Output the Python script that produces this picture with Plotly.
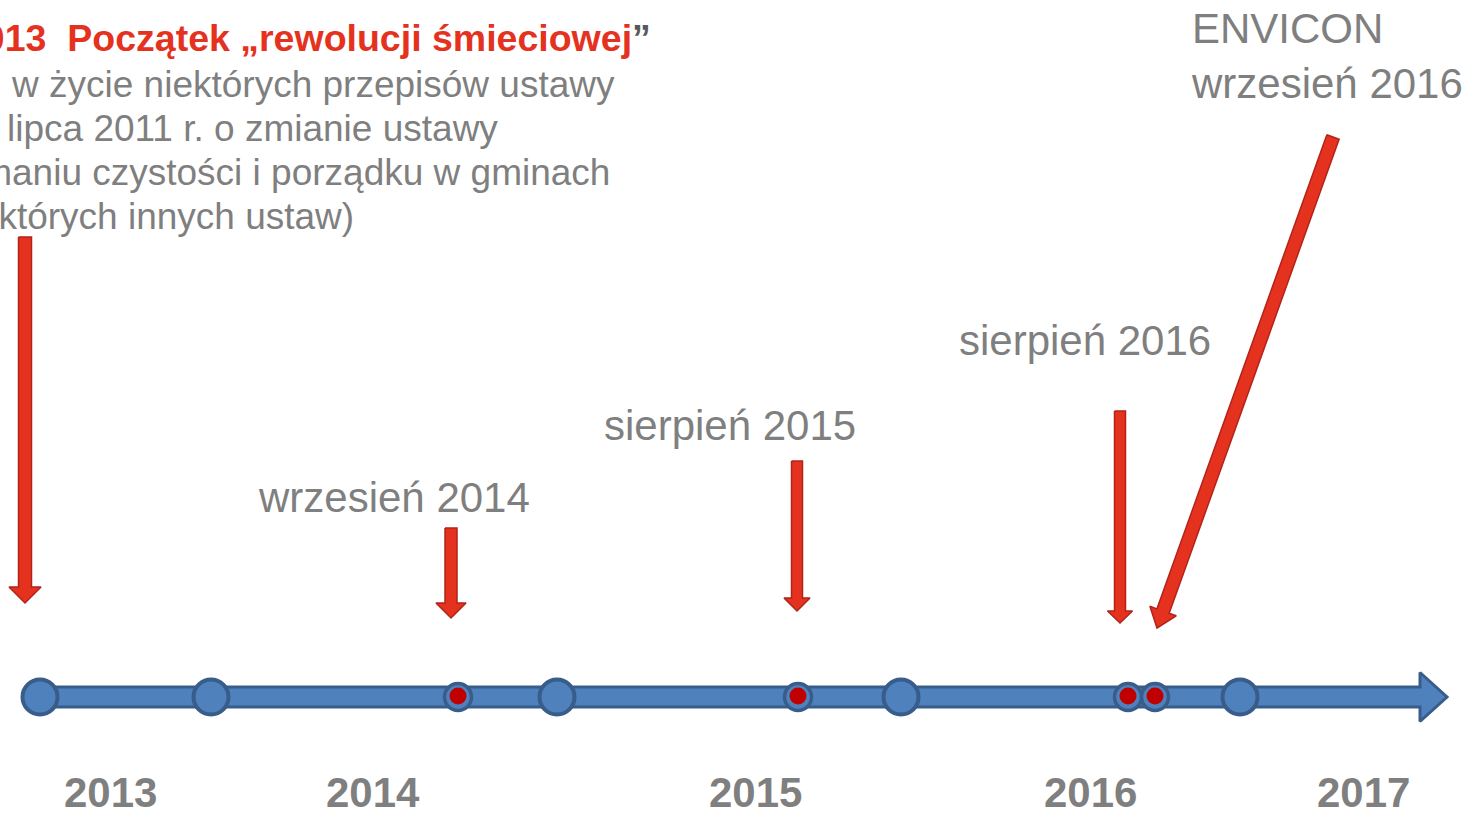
import numpy as np
import plotly.graph_objects as go

# canvas is laid out in slide pixels (x to the right, y downwards)
W, H = 1470, 815

# timeline
axis_y = 697
axis_start, axis_end = 36, 1447
big_nodes_x = [40, 211, 557, 901, 1240]
event_nodes_x = [458, 798, 1128, 1155]

# year labels under the axis
years = ["2013", "2014", "2015", "2016", "2017"]
years_x = [110, 373, 755, 1090, 1363]
years_y = 792

# red pointer arrows: start, end, shaft width, head width, head length
arrow_x0 = [25, 451, 797, 1120, 1333]
arrow_y0 = [237, 528, 461, 411, 137]
arrow_x1 = [25, 451, 797, 1120, 1157]
arrow_y1 = [603, 618, 611, 623, 628]
arrow_shaft = [13, 12, 11, 11, 13]
arrow_head = [32, 30, 26, 25, 28]
arrow_hlen = [16, 15, 13, 12, 18]

# event captions
labels = ["wrzesień 2014", "sierpień 2015", "sierpień 2016", "ENVICON<br>wrzesień 2016"]
labels_x = [256, 602, 957, 1189]
labels_y = [497, 425, 340, 56]

# cut-off description at the top left (right edges are visible)
title_text = "2013  Początek „rewolucji śmieciowej<span style='color:#595959'>”</span>"
desc_lines = [
    "w życie niektórych przepisów ustawy",
    "lipca 2011 r. o zmianie ustawy",
    "utrzymaniu czystości i porządku w gminach",
    "niektórych innych ustaw)",
]
desc_right = [617, 500, 612, 356]
desc_y = [84, 128, 172, 216]

RED = "#E5321F"
RED_EDGE = "#B3231A"
BLUE = "#4F81BD"
BLUE_EDGE = "#385D8A"
GREY = "#7F7F7F"
FONT = "Liberation Sans, Arial, sans-serif"


def block_arrow(x0, y0, x1, y1, shaft, head, hlen):
    # polygon of a block arrow going from (x0,y0) to (x1,y1)
    d = np.array([x1 - x0, y1 - y0], dtype=float)
    L = np.hypot(*d)
    u = d / L
    n = np.array([-u[1], u[0]])
    p0 = np.array([x0, y0], dtype=float)
    b = p0 + u * (L - hlen)
    tip = np.array([x1, y1], dtype=float)
    pts = [p0 + n * shaft / 2, b + n * shaft / 2, b + n * head / 2, tip,
           b - n * head / 2, b - n * shaft / 2, p0 - n * shaft / 2, p0 + n * shaft / 2]
    xs = [p[0] for p in pts]
    ys = [p[1] for p in pts]
    return xs, ys


fig = go.Figure()

# timeline arrow
ax, ay = block_arrow(axis_start, axis_y, axis_end, axis_y, 20, 49, 27)
fig.add_trace(go.Scatter(x=ax, y=ay, mode="lines", fill="toself", fillcolor=BLUE,
                         line=dict(color=BLUE_EDGE, width=3), hoverinfo="skip"))

fig.add_trace(go.Scatter(x=big_nodes_x, y=[axis_y] * len(big_nodes_x), mode="markers",
                         marker=dict(size=35, color=BLUE, line=dict(color=BLUE_EDGE, width=4)),
                         hoverinfo="skip"))
fig.add_trace(go.Scatter(x=event_nodes_x, y=[axis_y] * len(event_nodes_x), mode="markers",
                         marker=dict(size=27, color=BLUE, line=dict(color=BLUE_EDGE, width=3.5)),
                         hoverinfo="skip"))
fig.add_trace(go.Scatter(x=event_nodes_x, y=[axis_y - 1] * len(event_nodes_x), mode="markers",
                         marker=dict(size=17, color="#C00000", line=dict(width=0)),
                         hoverinfo="skip"))

# red arrows
for i in range(len(arrow_x0)):
    xs, ys = block_arrow(arrow_x0[i], arrow_y0[i], arrow_x1[i], arrow_y1[i],
                         arrow_shaft[i], arrow_head[i], arrow_hlen[i])
    fig.add_trace(go.Scatter(x=xs, y=ys, mode="lines", fill="toself", fillcolor=RED,
                             line=dict(color=RED_EDGE, width=1.5), hoverinfo="skip"))

# years
for t, x in zip(years, years_x):
    fig.add_annotation(x=x, y=years_y, text="<b>" + t + "</b>", showarrow=False,
                       xanchor="center", yanchor="middle",
                       font=dict(family=FONT, size=42, color=GREY))

# captions
for t, x, y in zip(labels, labels_x, labels_y):
    fig.add_annotation(x=x, y=y, text=t, showarrow=False, xanchor="left", yanchor="middle",
                       align="left", font=dict(family=FONT, size=42, color=GREY))

# description top left
fig.add_annotation(x=653, y=38, text="<b>" + title_text + "</b>", showarrow=False,
                   xanchor="right", yanchor="middle",
                   font=dict(family=FONT, size=37.5, color=RED))
for t, x, y in zip(desc_lines, desc_right, desc_y):
    fig.add_annotation(x=x, y=y, text=t, showarrow=False, xanchor="right", yanchor="middle",
                       font=dict(family=FONT, size=37, color=GREY))

fig.update_layout(width=W, height=H, margin=dict(l=0, r=0, t=0, b=0),
                  plot_bgcolor="white", paper_bgcolor="white", showlegend=False,
                  hovermode=False)
fig.update_xaxes(range=[0, W], visible=False, fixedrange=True)
fig.update_yaxes(range=[H, 0], visible=False, fixedrange=True)

fig.write_html("out.html", config={"displayModeBar": False},
               post_script="document.body.style.margin='0';document.body.style.overflow='hidden';")
